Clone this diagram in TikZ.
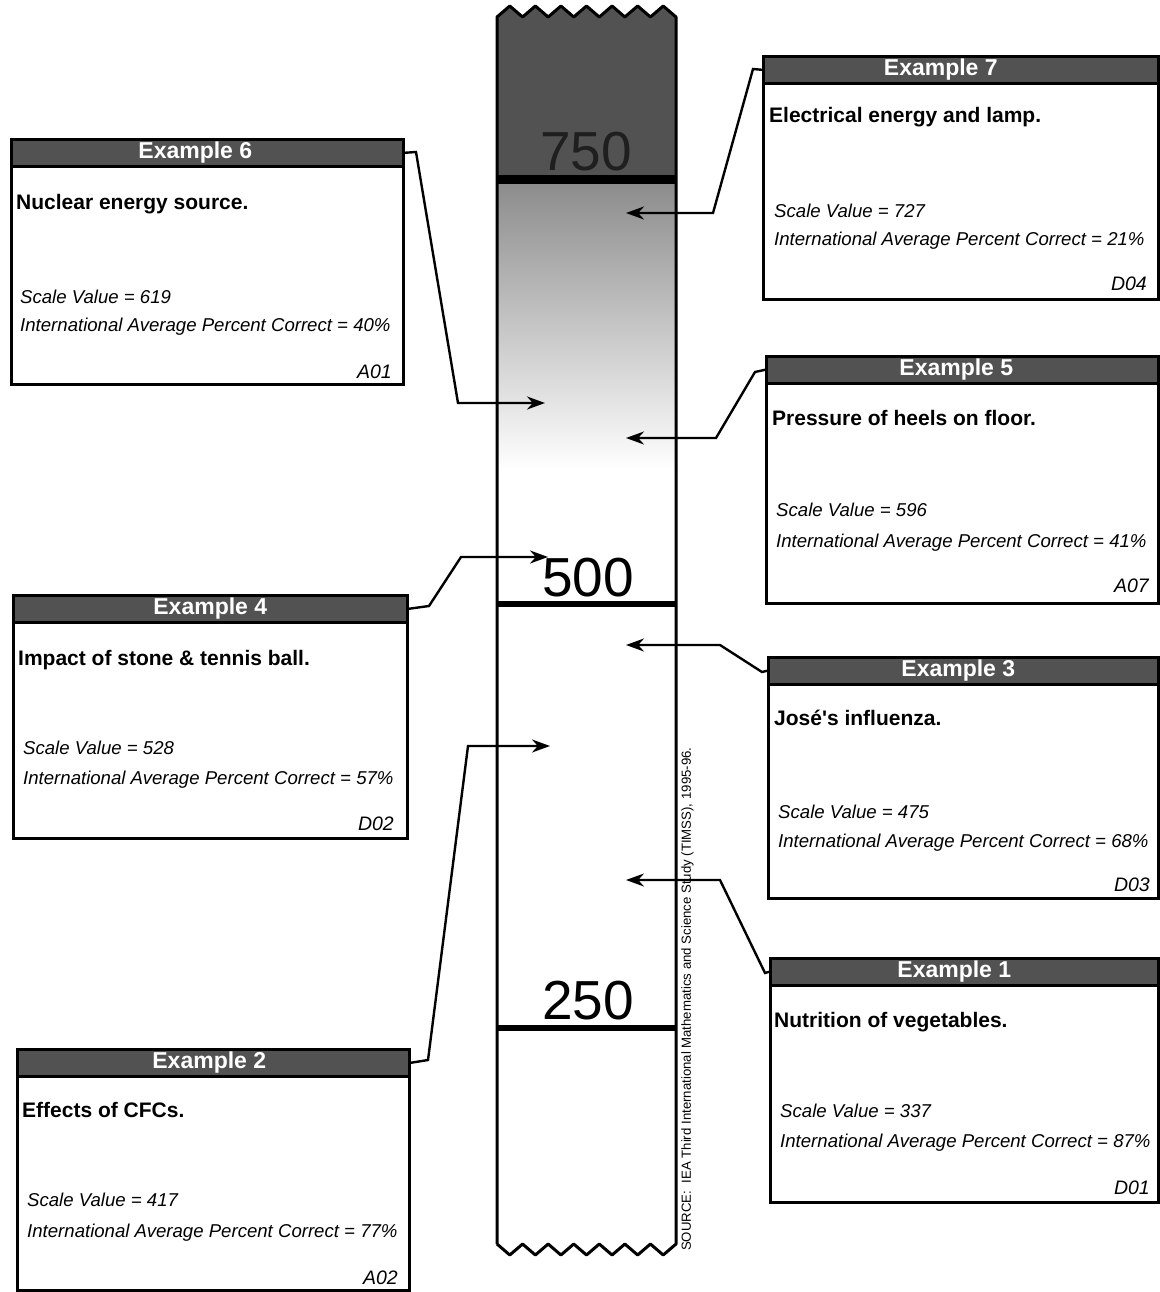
\documentclass[tikz,border=0pt]{standalone}
\usepackage{fontspec}
\setmainfont{Liberation Sans}
\usetikzlibrary{arrows.meta, positioning}

\tikzset{
    exbox/.style={draw, rectangle, line width=2.6pt, anchor=north west, inner sep=0pt},
    exhead/.style={draw, rectangle, line width=2.6pt, fill=black!68, text=white, anchor=north west,
        inner sep=0pt, minimum height=27pt, font=\bfseries\fontsize{23}{25}\selectfont},
    extitle/.style={anchor=base west, inner sep=0pt, font=\bfseries\fontsize{21}{23}\selectfont},
    exinfo/.style={anchor=base west, inner sep=0pt, font=\itshape\fontsize{18.6}{20}\selectfont},
    excode/.style={anchor=base east, inner sep=0pt, font=\itshape\fontsize{19.5}{21}\selectfont},
    scalenum/.style={inner sep=0pt, font=\fontsize{55}{57}\selectfont},
    conn/.style={line width=2.4pt, -{Stealth[length=18pt, width=13pt]}},
}

\begin{document}
\begin{tikzpicture}[x=1pt, y=-1pt]
    \useasboundingbox (0,0) rectangle (1159,1292);

    % scale column
    \fill[black!68] (497,180) -- (497,17)
        \foreach \i in {0,...,6} { -- ({497+25.57*\i+12.79},6) -- ({497+25.57*(\i+1)},17) } -- (676,180) -- cycle;
    \shade[top color=black!45, bottom color=white] (497,183) rectangle (676,470);
    \draw[line width=3pt, line join=round] (497,1244) -- (497,17)
        \foreach \i in {0,...,6} { -- ({497+25.57*\i+12.79},6) -- ({497+25.57*(\i+1)},17) } -- (676,1244)
        \foreach \i in {0,...,6} { -- ({676-25.57*\i-12.79},1255) -- ({676-25.57*(\i+1)},1244) };
    \draw[line width=9pt] (497,180) -- (676,180);
    \draw[line width=6pt] (497,604) -- (676,604);
    \draw[line width=6pt] (497,1028) -- (676,1028);
    \node[scalenum, text=black!88] (s750) at (586,152) {750};
    \node[scalenum] (s500) at (588,578) {500};
    \node[scalenum] (s250) at (588,1001) {250};
    \node[rotate=90, anchor=north west, inner sep=0pt, font=\fontsize{13.2}{15}\selectfont] (src) at (681,1251)
        {SOURCE:\ \ IEA Third International Mathematics and Science Study (TIMSS), 1995-96.};

    % Example 6
    \node[exbox, minimum width=392pt, minimum height=245pt] (ex6) at (10,138) {};
    \node[exhead, minimum width=392pt] (h6) at (10,138) {\hspace{-24pt}Example 6};
    \node[extitle] at (16,209) {Nuclear energy source.};
    \node[exinfo] at (20,303) {Scale Value = 619};
    \node[exinfo] at (20,331) {International Average Percent Correct = 40\%};
    \node[excode] at (392,378) {A01};

    % Example 7
    \node[exbox, minimum width=395pt, minimum height=243pt] (ex7) at (762,55) {};
    \node[exhead, minimum width=395pt] (h7) at (762,55) {\hspace{-40pt}Example 7};
    \node[extitle] at (769,123) {Electrical energy and lamp.};
    \node[exinfo] at (774,217) {Scale Value = 727};
    \node[exinfo] at (774,245) {International Average Percent Correct = 21\%};
    \node[excode] at (1147,290) {D04};

    % Example 5
    \node[exbox, minimum width=392pt, minimum height=247pt] (ex5) at (765,355) {};
    \node[exhead, minimum width=392pt] (h5) at (765,355) {\hspace{-12pt}Example 5};
    \node[extitle] at (772,425) {Pressure of heels on floor.};
    \node[exinfo] at (776,516) {Scale Value = 596};
    \node[exinfo] at (776,547) {International Average Percent Correct = 41\%};
    \node[excode] at (1149,592) {A07};

    % Example 4
    \node[exbox, minimum width=394pt, minimum height=243pt] (ex4) at (12,594) {};
    \node[exhead, minimum width=394pt] (h4) at (12,594) {Example 4};
    \node[extitle] at (18,665) {Impact of stone \& tennis ball.};
    \node[exinfo] at (23,754) {Scale Value = 528};
    \node[exinfo] at (23,784) {International Average Percent Correct = 57\%};
    \node[excode] at (394,830) {D02};

    % Example 3
    \node[exbox, minimum width=390pt, minimum height=241pt] (ex3) at (767,656) {};
    \node[exhead, minimum width=390pt] (h3) at (767,656) {\hspace{-10pt}Example 3};
    \node[extitle] at (774,725) {José\textquotesingle s influenza.};
    \node[exinfo] at (778,818) {Scale Value = 475};
    \node[exinfo] at (778,847) {International Average Percent Correct = 68\%};
    \node[excode] at (1150,891) {D03};

    % Example 1
    \node[exbox, minimum width=388pt, minimum height=244pt] (ex1) at (769,957) {};
    \node[exhead, minimum width=388pt] (h1) at (769,957) {\hspace{-20pt}Example 1};
    \node[extitle] at (774,1027) {Nutrition of vegetables.};
    \node[exinfo] at (780,1117) {Scale Value = 337};
    \node[exinfo] at (780,1147) {International Average Percent Correct = 87\%};
    \node[excode] at (1150,1194) {D01};

    % Example 2
    \node[exbox, minimum width=392pt, minimum height=241pt] (ex2) at (16,1048) {};
    \node[exhead, minimum width=392pt] (h2) at (16,1048) {\hspace{-8pt}Example 2};
    \node[extitle] at (22,1117) {Effects of CFCs.};
    \node[exinfo] at (27,1206) {Scale Value = 417};
    \node[exinfo] at (27,1237) {International Average Percent Correct = 77\%};
    \node[excode] at (398,1284) {A02};

    % pointers onto the scale
    \coordinate (p6) at (545,403);
    \coordinate (p7) at (626,213);
    \coordinate (p5) at (626,438);
    \coordinate (p4) at (548,557);
    \coordinate (p3) at (626,645);
    \coordinate (p1) at (626,880);
    \coordinate (p2) at (550,746);
    \draw[conn] (h6.east) -- (416,152) -- (458,403) -- (p6);
    \draw[conn] (h7.west) -- (753,69) -- (713,213) -- (p7);
    \draw[conn] (h5.west) -- (755,372) -- (716,438) -- (p5);
    \draw[conn] (h4.east) -- (429,606) -- (461,557) -- (p4);
    \draw[conn] (h3.west) -- (762,672) -- (720,645) -- (p3);
    \draw[conn] (h1.west) -- (765,973) -- (720,880) -- (p1);
    \draw[conn] (h2.east) -- (428,1060) -- (468,746) -- (p2);
\end{tikzpicture}
\end{document}
